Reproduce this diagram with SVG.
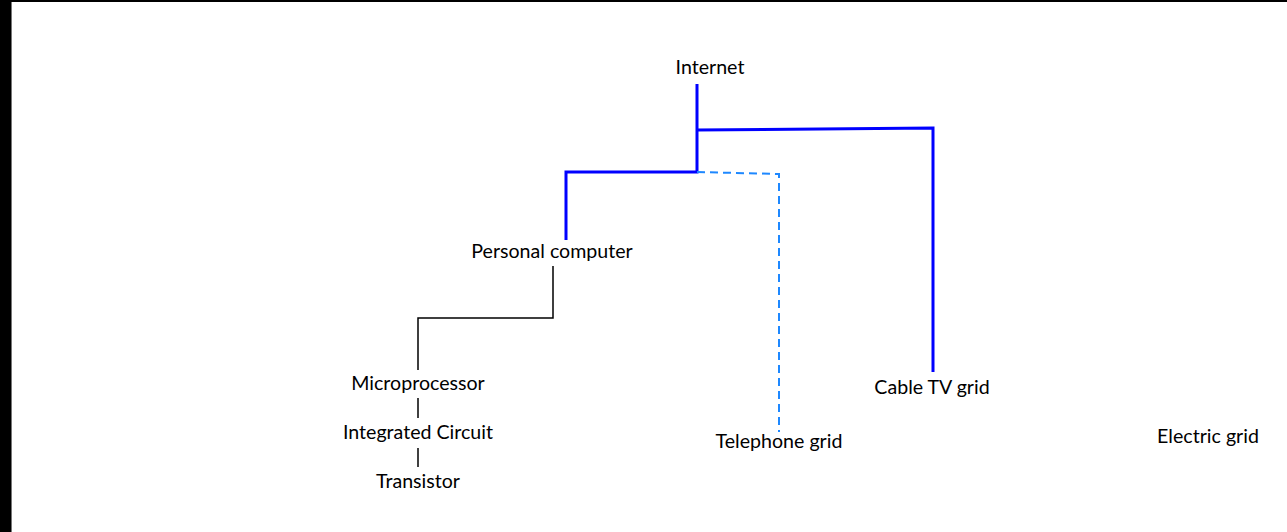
<svg xmlns="http://www.w3.org/2000/svg" width="1287" height="532" viewBox="0 0 1287 532">
  <style>
    .lbl { font-family: Lato, "Open Sans", "Liberation Sans", sans-serif; font-size: 19.6px; fill: #000; text-anchor: middle; }
    .main { fill: none; stroke: #0000ff; stroke-width: 3; }
    .dash { fill: none; stroke: #1e88ff; stroke-width: 2; stroke-dasharray: 8 5; }
    .thin { fill: none; stroke: #000; stroke-width: 1.5; }
  </style>
  <rect x="0" y="0" width="1287" height="532" fill="#fff"/>
  <!-- frame edges -->
  <rect x="0" y="0" width="1287" height="2" fill="#000"/>
  <rect x="0" y="0" width="11" height="532" fill="#000"/>
  <rect x="11" y="2" width="1" height="530" fill="#777"/>

  <g id="connectors">
    <path class="main" d="M697 84 V172 H566 V240"/>
    <path class="main" d="M697 130 L933 128 V372"/>
    <path class="dash" d="M697 172 L779 174 V432"/>
    <path class="thin" d="M553 266 V318 H418 V370"/>
    <path class="thin" d="M418 398 V418"/>
    <path class="thin" d="M418 448 V467"/>
  </g>

  <g id="internet"><text class="lbl" x="710" y="74">Internet</text></g>
  <g id="personal-computer"><text class="lbl" x="552" y="258">Personal computer</text></g>
  <g id="microprocessor"><text class="lbl" x="418" y="390">Microprocessor</text></g>
  <g id="integrated-circuit"><text class="lbl" x="418" y="439">Integrated Circuit</text></g>
  <g id="transistor"><text class="lbl" x="418" y="488">Transistor</text></g>
  <g id="telephone-grid"><text class="lbl" x="779" y="448">Telephone grid</text></g>
  <g id="cable-tv-grid"><text class="lbl" x="932" y="394">Cable TV grid</text></g>
  <g id="electric-grid"><text class="lbl" x="1208" y="443">Electric grid</text></g>
</svg>
